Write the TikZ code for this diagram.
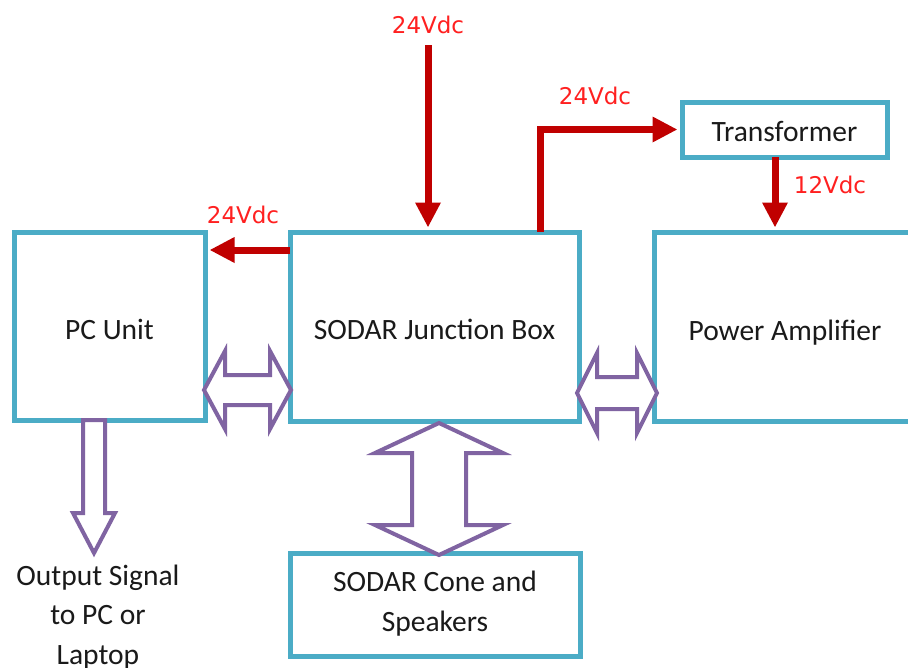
\documentclass[tikz,border=0pt]{standalone}
\usepackage{fontspec}
\setmainfont{Carlito}
\newfontfamily\labfont{DejaVu Sans}
\usetikzlibrary{arrows.meta,calc}
\definecolor{teal}{HTML}{4BACC6}
\definecolor{purp}{HTML}{8064A2}
\definecolor{dred}{HTML}{C00000}
\definecolor{lred}{HTML}{FF2020}
\definecolor{txt}{HTML}{1A1A1A}
\tikzset{
  box/.style={draw=teal, line width=5pt, fill=white, inner sep=0pt},
  redarr/.style={draw=dred, line width=7pt,
    -{Triangle[length=25pt,width=24pt]}, shorten >=2pt},
  vlab/.style={text=lred, font=\labfont\fontsize{23}{27}\selectfont, inner sep=0pt},
  purparr/.style={draw=purp, line width=4pt, fill=white, line join=miter},
  plain/.style={text=txt, font=\fontsize{29.5}{39.5}\selectfont, align=center, inner sep=0pt}
}
\newcommand\mydarrh[6]{% x1 x2 yc headhalf shafthalf headlen
  \draw[purparr] (#1,#3) -- ({#1+#6},{#3-#4}) -- ({#1+#6},{#3-#5}) -- ({#2-#6},{#3-#5})
    -- ({#2-#6},{#3-#4}) -- (#2,#3) -- ({#2-#6},{#3+#4}) -- ({#2-#6},{#3+#5})
    -- ({#1+#6},{#3+#5}) -- ({#1+#6},{#3+#4}) -- cycle;}
\newcommand\mydarrv[6]{% y1 y2 xc headhalf shafthalf headlen
  \draw[purparr] (#3,#1) -- ({#3+#4},{#1+#6}) -- ({#3+#5},{#1+#6}) -- ({#3+#5},{#2-#6})
    -- ({#3+#4},{#2-#6}) -- (#3,#2) -- ({#3-#4},{#2-#6}) -- ({#3-#5},{#2-#6})
    -- ({#3-#5},{#1+#6}) -- ({#3-#4},{#1+#6}) -- cycle;}
\begin{document}
\begin{tikzpicture}[x=1pt,y=-1pt]
\useasboundingbox (0,0) rectangle (908,667);
\clip (0,0) rectangle (908,667);
\fill[white] (0,0) rectangle (908,667);
% boxes
\node[box, minimum width=191pt, minimum height=188pt] (pc) at (109.5,326) {};
\node[box, minimum width=289pt, minimum height=189pt] (jb) at (434.5,326.5) {};
\node[box, minimum width=262pt, minimum height=189pt] (pa) at (785,326.5) {};
\node[box, minimum width=205pt, minimum height=55pt] (tr) at (784.5,129.5) {};
\node[box, minimum width=290pt, minimum height=103pt] (cone) at (435,604.5) {};
% box texts
\node[plain] (tpc) at ($(pc.center)+(0,3)$) {PC Unit};
\node[plain] (tjb) at ($(jb.center)+(0,3)$) {SODAR Junction Box};
\node[plain] (tpa) at ($(pa.center)+(0,6)$) {Power Amplifier};
\node[plain] (ttr) at ($(tr.center)+(0,1.5)$) {Transformer};
\node[plain] (tcone) at ($(cone.center)+(0,-1)$) {SODAR Cone and\\Speakers};
\node[plain] (out) at (98,617) {Output Signal\\to PC or\\Laptop};
% red power arrows
\coordinate (src) at (428,45);
\draw[redarr] (src) -- (src |- jb.north);
\coordinate (pcfeed) at (290,250);
\draw[redarr] (pcfeed) -- (pcfeed -| pc.east);
\coordinate (trfeed) at (540,232);
\draw[redarr] (trfeed) |- (tr.west);
\coordinate (twelve) at (775,157);
\draw[redarr] (twelve) -- (twelve |- pa.north);
% labels
\node[vlab] (l1) at (428,25) {24Vdc};
\node[vlab] (l2) at (243,215) {24Vdc};
\node[vlab] (l3) at (595,96) {24Vdc};
\node[vlab] (l4) at (830,185) {12Vdc};
% purple data arrows
\mydarrh{204}{291}{390}{39}{15}{21}
\mydarrh{577}{657}{393}{40}{16}{20}
\mydarrv{423}{555}{439}{64}{27}{30}
\draw[purparr] (83,420) -- (105,420) -- (105,513) -- (115,513) -- (94,553) -- (73,513) -- (83,513) -- cycle;
\end{tikzpicture}
\end{document}
